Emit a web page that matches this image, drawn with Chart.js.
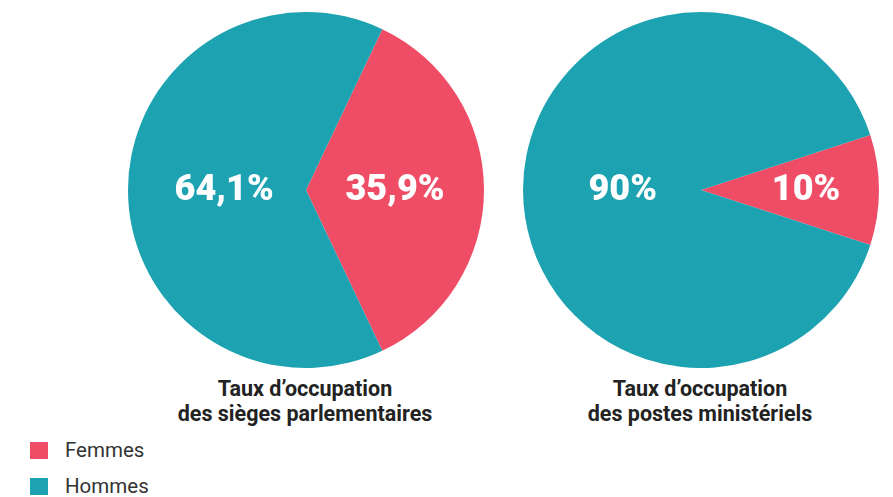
<!DOCTYPE html>
<html lang="fr">
<head>
<meta charset="utf-8">
<script src="https://cdn.jsdelivr.net/npm/chart.js@4/dist/chart.umd.min.js"></script>
<style>
  html, body { margin: 0; padding: 0; background: #fff; }
  body { width: 893px; height: 497px; position: relative; overflow: hidden; font-family: Roboto, sans-serif; }
  .pie { position: absolute; top: 12px; width: 356px; height: 356px; }
  .title { position: absolute; top: 376px; width: 380px; text-align: center; font-weight: 700; font-size: 21.5px; line-height: 25px; color: #222; }
  .legend { position: absolute; left: 30px; font-size: 20.5px; color: #333; }
  .legend span.sw { position: absolute; left: 0; top: 2px; width: 18px; height: 17px; }
  .legend span.tx { position: absolute; left: 35px; top: -1px; white-space: nowrap; line-height: 22px; }
</style>
</head>
<body>
<div class="pie" style="left:128px"><canvas id="pieParl"></canvas></div>
<div class="pie" style="left:523px"><canvas id="pieMin"></canvas></div>
<div class="title" style="left:115px">Taux d’occupation<br>des sièges parlementaires</div>
<div class="title" style="left:510px">Taux d’occupation<br>des postes ministériels</div>
<div id="legend"></div>

<script>
'use strict';

const categories = ['Femmes', 'Hommes'];
const colors = ['#ef4d66', '#1ca2b0'];
const parlValues = [35.9, 64.1];
const minValues = [10, 90];

function fmt(v) {
    return String(v).replace('.', ',') + '%';
}

// draws the percentage inside each slice
const sliceLabels = {
    id: 'sliceLabels',
    afterDatasetsDraw(chart, args, opts) {
        const ctx = chart.ctx;
        const meta = chart.getDatasetMeta(0);
        const data = chart.data.datasets[0].data;
        ctx.save();
        ctx.fillStyle = '#fff';
        ctx.font = '900 36px Roboto, sans-serif';
        ctx.textAlign = 'center';
        ctx.textBaseline = 'middle';
        meta.data.forEach(function(arc, i) {
            const p = arc.getProps(['x', 'y', 'startAngle', 'endAngle', 'outerRadius'], true);
            const mid = (p.startAngle + p.endAngle) / 2;
            const r = p.outerRadius * opts.radius[i];
            ctx.fillText(fmt(data[i]), p.x + Math.cos(mid) * r, p.y + Math.sin(mid) * r + 1);
        });
        ctx.restore();
    }
};

function makePie(id, values, labelRadius) {
    new Chart(document.getElementById(id), {
        type: 'pie',
        data: {
            labels: categories,
            datasets: [{
                data: values,
                backgroundColor: colors,
                borderWidth: 0,
                hoverOffset: 0
            }]
        },
        options: {
            responsive: true,
            maintainAspectRatio: false,
            animation: false,
            rotation: 90 - values[0] * 3.6 / 2,
            layout: { padding: 0 },
            plugins: {
                legend: { display: false },
                tooltip: { enabled: false },
                sliceLabels: { radius: labelRadius }
            }
        },
        plugins: [sliceLabels]
    });
}

makePie('pieParl', parlValues, [0.5, 0.46]);
makePie('pieMin', minValues, [0.59, 0.44]);

const legendTop = [440, 476];
document.getElementById('legend').innerHTML = categories.map(function(c, i) {
    return '<div class="legend" style="top:' + legendTop[i] + 'px">'
        + '<span class="sw" style="background:' + colors[i] + '"></span>'
        + '<span class="tx">' + c + '</span></div>';
}).join('');
</script>
</body>
</html>
